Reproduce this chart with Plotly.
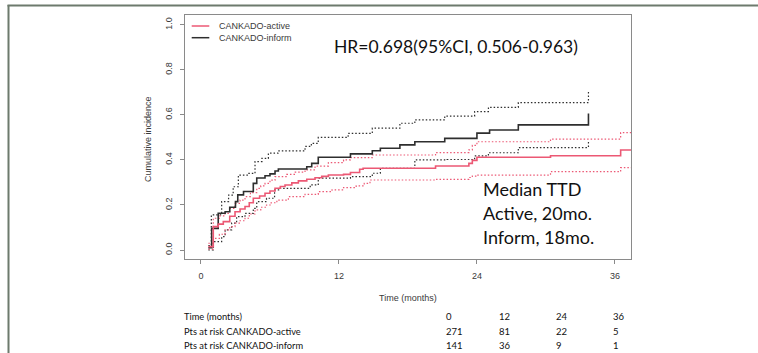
import plotly.graph_objects as go

# ---------------- data ----------------
active_t = [0.64, 1.07, 1.5, 1.94, 2.5, 2.96, 3.4, 3.83, 4.2, 4.55, 5.1, 5.57, 6.0, 6.44, 6.9, 7.31, 7.9, 8.47,
            9.2, 9.92, 10.5, 11.08, 12.4, 13.0, 13.8, 14.1, 20.4, 23.3, 23.6, 24.0, 30.4, 36.5, 37.6]
active_v = [0.015, 0.104, 0.115, 0.126, 0.15, 0.17, 0.182, 0.193, 0.21, 0.23, 0.24, 0.252, 0.262, 0.274, 0.282,
            0.289, 0.298, 0.307, 0.314, 0.321, 0.327, 0.333, 0.336, 0.344, 0.359, 0.363, 0.373, 0.385, 0.398,
            0.412, 0.419, 0.444, 0.444]

active_hi_t = [0.64, 1.07, 1.6, 2.09, 2.5, 2.96, 3.4, 3.83, 4.3, 4.85, 5.2, 5.57, 6.0, 6.44, 7.46, 8.2, 9.05,
               9.92, 11.08, 12.4, 13.0, 14.9, 20.4, 23.3, 23.6, 24.0, 30.4, 36.5, 37.6]
active_hi_v = [0.03, 0.141, 0.152, 0.163, 0.185, 0.207, 0.222, 0.237, 0.255, 0.274, 0.285, 0.296, 0.31, 0.326,
               0.336, 0.346, 0.356, 0.373, 0.388, 0.4, 0.41, 0.422, 0.433, 0.445, 0.465, 0.481, 0.493, 0.521, 0.521]

active_lo_t = [0.64, 1.07, 1.6, 2.09, 2.5, 2.96, 3.4, 3.83, 4.2, 4.7, 5.2, 5.7, 6.1, 6.6, 7.6, 9.05, 10.2, 11.4,
               12.4, 13.5, 14.2, 14.7, 20.4, 23.3, 23.6, 24.0, 30.4, 36.5, 37.6]
active_lo_v = [0.004, 0.052, 0.07, 0.089, 0.104, 0.119, 0.13, 0.141, 0.16, 0.178, 0.19, 0.2, 0.21, 0.222, 0.237,
               0.247, 0.259, 0.267, 0.277, 0.285, 0.296, 0.311, 0.314, 0.322, 0.328, 0.333, 0.348, 0.366, 0.366]

inform_t = [0.64, 0.93, 1.5, 2.1, 2.5, 3.0, 3.2, 3.7, 4.55, 4.85, 5.57, 6.0, 6.44, 6.73, 9.2, 9.63, 10.2, 13.0,
            14.9, 15.6, 17.3, 18.6, 21.2, 24.0, 25.1, 27.6, 33.7]
inform_v = [0.01, 0.096, 0.163, 0.17, 0.19, 0.215, 0.245, 0.26, 0.296, 0.32, 0.33, 0.338, 0.351, 0.36, 0.37,
            0.385, 0.412, 0.427, 0.441, 0.452, 0.467, 0.481, 0.496, 0.519, 0.533, 0.556, 0.606]

inform_hi_t = [0.64, 0.9, 1.8, 2.4, 2.8, 3.25, 4.1, 4.7, 5.3, 5.86, 6.7, 9.05, 9.6, 10.2, 12.8, 14.9, 17.3, 18.6,
               21.2, 23.8, 25.0, 27.6, 33.7]
inform_hi_v = [0.02, 0.156, 0.215, 0.244, 0.281, 0.333, 0.34, 0.393, 0.407, 0.43, 0.44, 0.46, 0.474, 0.5, 0.518,
               0.541, 0.563, 0.578, 0.595, 0.615, 0.634, 0.655, 0.711]

inform_lo_t = [0.64, 1.07, 1.8, 2.1, 2.67, 3.1, 3.83, 4.55, 4.85, 5.7, 6.4, 6.9, 9.5, 10.2, 13.0, 14.9, 15.6,
               18.6, 21.4, 23.8, 25.0, 27.6, 33.7]
inform_lo_v = [0.0, 0.037, 0.059, 0.089, 0.119, 0.148, 0.163, 0.185, 0.215, 0.23, 0.267, 0.274, 0.289, 0.319,
               0.326, 0.341, 0.363, 0.4, 0.402, 0.418, 0.432, 0.455, 0.489]

x_ticks = [0, 12, 24, 36]
y_ticks = [0.0, 0.2, 0.4, 0.6, 0.8, 1.0]
y_tick_labels = ["0.0", "0.2", "0.4", "0.6", "0.8", "1.0"]

series_names = ["CANKADO-active", "CANKADO-inform"]
risk_row_labels = ["Time (months)", "Pts at risk CANKADO-active", "Pts at risk CANKADO-inform"]
risk_times = ["0", "12", "24", "36"]
risk_active = ["271", "81", "22", "5"]
risk_inform = ["141", "36", "9", "1"]

hr_text = "HR=0.698(95%CI, 0.506-0.963)"
median_lines = ["Median TTD", "Active, 20mo.", "Inform, 18mo."]

# ---------------- styling / layout ----------------
W, H = 758, 353
PL, PR, PT, PB = 185, 631, 15, 259  # plot area in pixels

RED = "#ec5874"
BLACK = "#2e2e2e"
AXIS_GREY = "#8a8a8a"
TXT = "#3a3a3a"
AX_FONT = "Liberation Sans, Arial, sans-serif"
CAL_FONT = "Lato, Carlito, Calibri, sans-serif"


def px(x):
    return (x - PL) / (PR - PL)


def py(y):
    return (PB - y) / (PB - PT)


fig = go.Figure()

def add_step(t, v, color, dash, width):
    fig.add_trace(go.Scatter(x=t, y=v, mode="lines", line=dict(color=color, width=width, dash=dash, shape="hv"),
                             showlegend=False, hoverinfo="skip"))

add_step(inform_lo_t, inform_lo_v, BLACK, "1.5px,2px", 1.2)
add_step(inform_hi_t, inform_hi_v, BLACK, "1.5px,2px", 1.2)
add_step(active_lo_t, active_lo_v, RED, "1.5px,2px", 1.2)
add_step(active_hi_t, active_hi_v, RED, "1.5px,2px", 1.2)
add_step(inform_t, inform_v, BLACK, None, 1.6)
add_step(active_t, active_v, RED, None, 1.6)

fig.update_xaxes(range=[-1.39, 37.4], tickvals=x_ticks, ticktext=[str(v) for v in x_ticks],
                 showline=True, linecolor=AXIS_GREY, linewidth=1, mirror=True,
                 ticks="outside", ticklen=4, tickcolor=AXIS_GREY, showgrid=False, zeroline=False,
                 tickfont=dict(family=AX_FONT, size=9, color=TXT), ticklabelstandoff=4)
fig.update_yaxes(range=[-0.04, 1.044], tickvals=y_ticks, ticktext=y_tick_labels, tickangle=-90,
                 showline=True, linecolor=AXIS_GREY, linewidth=1, mirror=True,
                 ticks="outside", ticklen=4, tickcolor=AXIS_GREY, showgrid=False, zeroline=False,
                 tickfont=dict(family=AX_FONT, size=9, color=TXT), ticklabelstandoff=4)

ann = []
shapes = []

# axis titles
ann.append(dict(text="Time (months)", x=px(408), y=py(298), xref="paper", yref="paper", showarrow=False,
                xanchor="center", yanchor="middle", font=dict(family=AX_FONT, size=9, color=TXT)))
ann.append(dict(text="Cumulative incidence", x=px(148), y=py(139), xref="paper", yref="paper", showarrow=False,
                xanchor="center", yanchor="middle", textangle=-90, font=dict(family=AX_FONT, size=9, color=TXT)))

# legend (drawn manually)
for i, (name, col) in enumerate(zip(series_names, [RED, BLACK])):
    yy = 26 + i * 11.7
    shapes.append(dict(type="line", xref="paper", yref="paper", x0=px(191.7), x1=px(209.3), y0=py(yy), y1=py(yy),
                       line=dict(color=col, width=1.5)))
    ann.append(dict(text=name, x=px(216.5), y=py(yy), xref="paper", yref="paper", showarrow=False,
                    xanchor="left", yanchor="middle", font=dict(family=AX_FONT, size=9, color=TXT)))

# HR text
ann.append(dict(text=hr_text, x=px(332), y=py(46.5), xref="paper", yref="paper", showarrow=False,
                xanchor="left", yanchor="middle", font=dict(family=CAL_FONT, size=17.5, color="#111111")))

# median text
for i, line in enumerate(median_lines):
    ann.append(dict(text=line, x=px(481), y=py(188.5 + 24 * i), xref="paper", yref="paper", showarrow=False,
                    xanchor="left", yanchor="middle", font=dict(family=CAL_FONT, size=18, color="#111111")))

# risk table
row_y = [316.7, 331.7, 345.7]
col_x = [444, 497, 554, 611]
rows = [risk_times, risk_active, risk_inform]
for label, yy, vals in zip(risk_row_labels, row_y, rows):
    ann.append(dict(text=label, x=px(182), y=py(yy), xref="paper", yref="paper", showarrow=False,
                    xanchor="left", yanchor="middle", font=dict(family=CAL_FONT, size=9.3, color="#111111")))
    for cx, v in zip(col_x, vals):
        ann.append(dict(text=v, x=px(cx), y=py(yy), xref="paper", yref="paper", showarrow=False,
                        xanchor="left", yanchor="middle", font=dict(family=CAL_FONT, size=9.5, color="#111111")))

# outer frame (left and top edges)
FRAME = "#6d7a6d"
shapes.append(dict(type="line", xref="paper", yref="paper", x0=px(8.5), x1=px(8.5), y0=py(5), y1=py(360),
                   line=dict(color=FRAME, width=2)))
shapes.append(dict(type="line", xref="paper", yref="paper", x0=px(7.5), x1=px(770), y0=py(5.5), y1=py(5.5),
                   line=dict(color=FRAME, width=2)))

fig.update_layout(width=W, height=H, margin=dict(l=PL, r=W - PR, t=PT, b=H - PB, pad=0),
                  paper_bgcolor="white", plot_bgcolor="white", annotations=ann, shapes=shapes,
                  showlegend=False)

fig.write_html("out.html")
